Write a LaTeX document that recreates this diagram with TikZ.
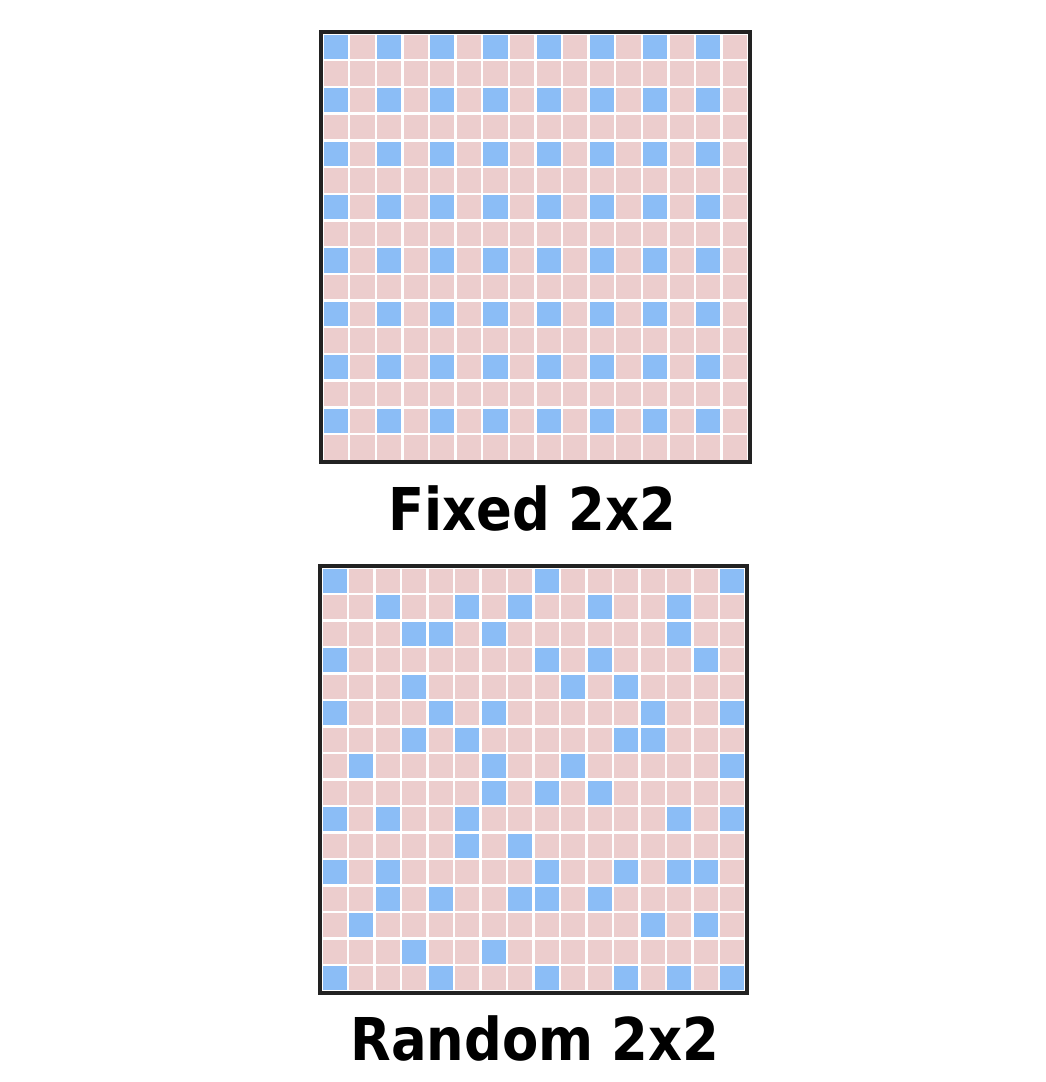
\documentclass[tikz,border=0pt]{standalone}
\usepackage{fontspec}
\newfontfamily\labelfont[FakeStretch=0.895]{DejaVu Sans Bold}
\definecolor{cellpink}{RGB}{236,205,205}
\definecolor{cellblue}{RGB}{139,189,246}
\definecolor{frame}{RGB}{34,34,34}
\begin{document}
\begin{tikzpicture}[x=1pt,y=-1pt,
  pinkcell/.style={fill=cellpink},
  bluecell/.style={fill=cellblue},
  gridframe/.style={draw=frame, line width=3.5pt, fill=white},
  caption/.style={font=\labelfont\fontsize{59}{60}\selectfont, anchor=base, inner sep=0pt}]
\useasboundingbox (0,0) rectangle (1046,1082);
% fixed pattern
\draw[gridframe] (321,32) rectangle (750,462);
\foreach \r in {0,...,15}
  \foreach \c in {0,...,15}
    \fill[pinkcell] (322.5+\c*26.6+1.2,33.5+\r*26.7+1.2) rectangle ++(24.2,24.3);
\foreach \r in {0,2,...,14}
  \foreach \c in {0,2,...,14}
    \fill[bluecell] (322.5+\c*26.6+1.2,33.5+\r*26.7+1.2) rectangle ++(24.2,24.3);
\node[caption] (fixed) at (532,530) {Fixed 2x2};
% random pattern
\draw[gridframe] (320,566) rectangle (747,993);
\foreach \r in {0,...,15}
  \foreach \c in {0,...,15}
    \fill[pinkcell] (321.5+\c*26.5+1.2,567.5+\r*26.5+1.2) rectangle ++(24.1,24.1);
\foreach \r/\cols in {0/{0,8,15}, 1/{2,5,7,10,13}, 2/{3,4,6,13}, 3/{0,8,10,14},
    4/{3,9,11}, 5/{0,4,6,12,15}, 6/{3,5,11,12}, 7/{1,6,9,15},
    8/{6,8,10}, 9/{0,2,5,13,15}, 10/{5,7}, 11/{0,2,8,11,13,14},
    12/{2,4,7,8,10}, 13/{1,12,14}, 14/{3,6}, 15/{0,4,8,11,13,15}}
  \foreach \c in \cols
    \fill[bluecell] (321.5+\c*26.5+1.2,567.5+\r*26.5+1.2) rectangle ++(24.1,24.1);
\node[caption] (random) at (535,1060) {Random 2x2};
\end{tikzpicture}
\end{document}
